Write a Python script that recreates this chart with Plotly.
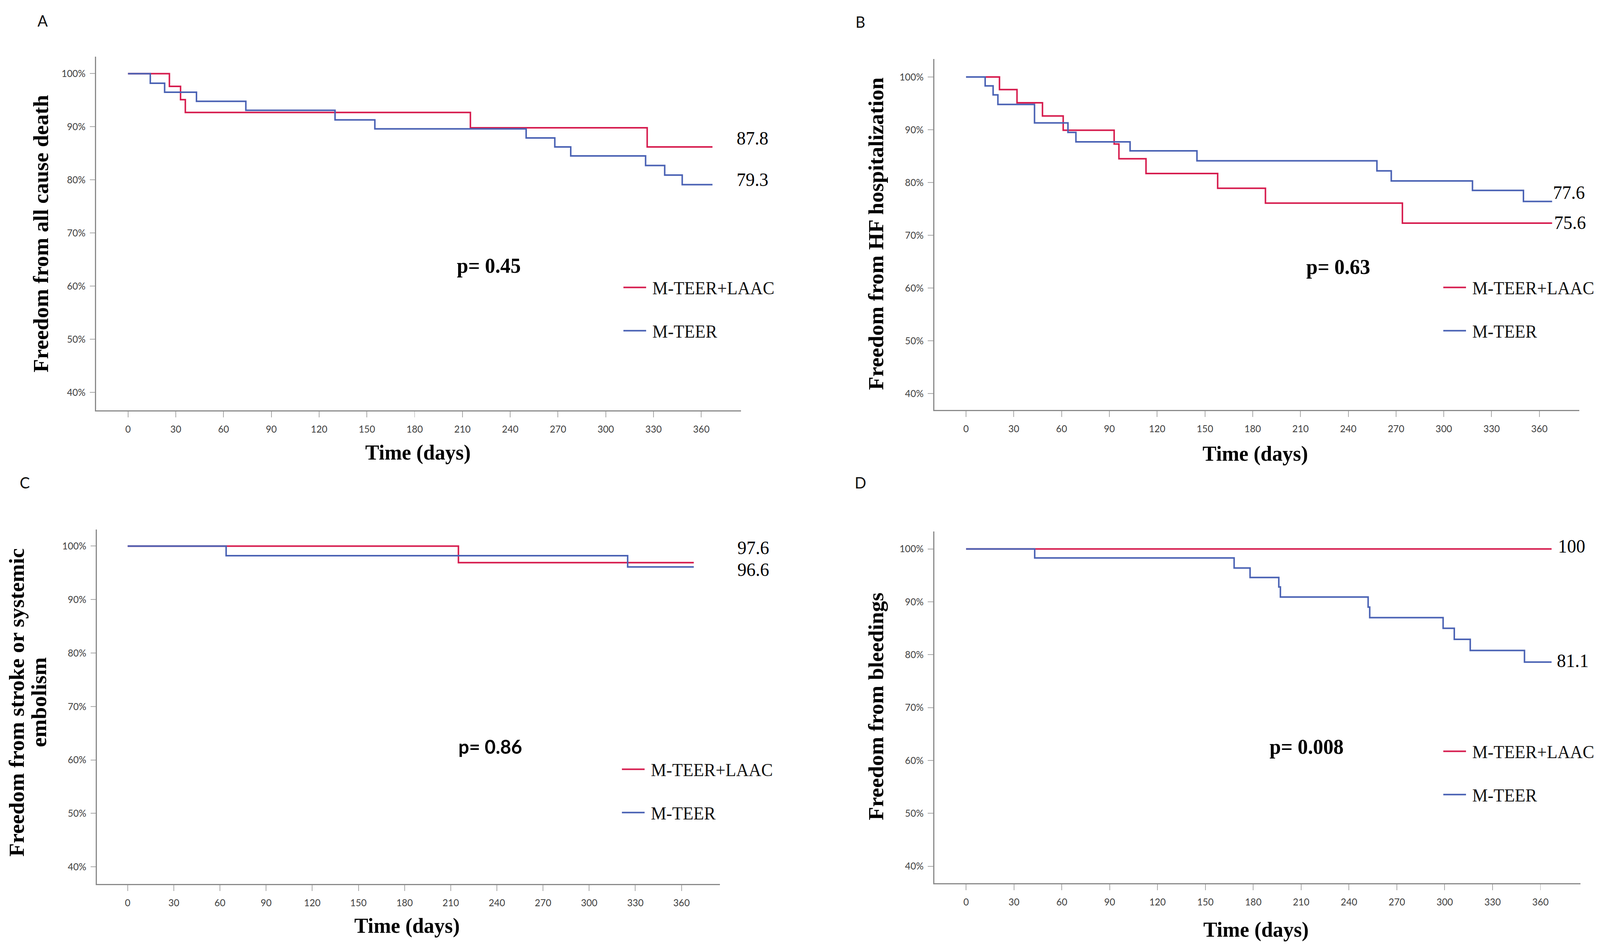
import plotly.graph_objects as go

W, H = 4227, 2431

# ---------------- data ----------------
GROUPS = ["M-TEER+LAAC", "M-TEER"]
COLORS = ["#D61C4E", "#4A62B4"]

# Panel A: all cause death
A_laac_days = [0, 26, 33, 36, 215, 326, 367]
A_laac_surv = [100, 97.6, 95.1, 92.7, 89.8, 86.2, 86.2]
A_teer_days = [0, 14, 23, 43, 74, 130, 155, 250, 268, 278, 325, 337, 348, 367]
A_teer_surv = [100, 98.2, 96.5, 94.8, 93.1, 91.3, 89.6, 87.9, 86.2, 84.5, 82.7, 80.9, 79.1, 79.1]

# Panel B: HF hospitalization
B_laac_days = [0, 21, 32, 48, 61, 93, 96, 113, 158, 188, 274, 368]
B_laac_surv = [100, 97.6, 95.1, 92.6, 89.9, 87.3, 84.5, 81.7, 78.9, 76.1, 72.3, 72.3]
B_teer_days = [0, 12, 17, 20, 43, 64, 69, 103, 145, 258, 267, 318, 350, 368]
B_teer_surv = [100, 98.3, 96.6, 94.8, 91.3, 89.5, 87.7, 86.0, 84.1, 82.2, 80.3, 78.5, 76.4, 76.4]

# Panel C: stroke or systemic embolism
C_laac_days = [0, 215, 368]
C_laac_surv = [100, 96.9, 96.9]
C_teer_days = [0, 64, 325, 368]
C_teer_surv = [100, 98.2, 96.1, 96.1]

# Panel D: bleedings
D_laac_days = [0, 367]
D_laac_surv = [100, 100]
D_teer_days = [0, 43, 168, 178, 196, 197, 252, 253, 299, 306, 316, 350, 367]
D_teer_surv = [100, 98.3, 96.4, 94.6, 92.8, 90.9, 89.0, 87.0, 85.0, 82.9, 80.8, 78.6, 78.6]

PANEL_LABELS = ["A", "B", "C", "D"]
P_VALUES = ["p= 0.45", "p= 0.63", "p= 0.86", "p= 0.008"]
END_LABELS = [["87.8", "79.3"], ["75.6", "77.6"], ["97.6", "96.6"], ["100", "81.1"]]
Y_TITLES = ["Freedom from all cause death", "Freedom from HF hospitalization",
            "Freedom from stroke or systemic", "Freedom from bleedings"]
Y_TITLE_C2 = "embolism"
X_TITLE = "Time (days)"
X_TICKS = [0, 30, 60, 90, 120, 150, 180, 210, 240, 270, 300, 330, 360]
Y_TICKS = [40, 50, 60, 70, 80, 90, 100]
Y_TICK_TEXT = ["40%", "50%", "60%", "70%", "80%", "90%", "100%"]

# ---------------- layout geometry (pixels in the figure) ----------------
def px(x):
    return x / W

def py(y):
    return 1 - y / H

# axes boxes: left, right, top, bottom (px)
BOXES = [
    (254, 1958, 145, 1050),
    (2468, 4172, 151, 1049),
    (256, 1902, 1355, 2262),
    (2468, 4175, 1360, 2260),
]
Y_RANGES = [[36.6, 103.2], [36.9, 103.4], [36.8, 103.1], [36.8, 103.3]]
X_RANGE = [-20, 385]

data_sets = [
    ((A_laac_days, A_laac_surv), (A_teer_days, A_teer_surv)),
    ((B_laac_days, B_laac_surv), (B_teer_days, B_teer_surv)),
    ((C_laac_days, C_laac_surv), (C_teer_days, C_teer_surv)),
    ((D_laac_days, D_laac_surv), (D_teer_days, D_teer_surv)),
]

fig = go.Figure()
layout = dict(
    width=W, height=H,
    margin=dict(l=0, r=0, t=0, b=0),
    paper_bgcolor="white", plot_bgcolor="white",
    annotations=[],
)

AX_LINE = "#8a8a8a"
TICK_COL = "#a8a8a8"
TICK_FONT = dict(family="Lato", size=25, color="#404040")

legend_names = ["legend", "legend2", "legend3", "legend4"]
LEG_POS = [(1642, 791), (3808, 791), (1638, 2024), (3808, 1978)]

for i in range(4):
    sfx = "" if i == 0 else str(i + 1)
    xa, ya = "x" + sfx, "y" + sfx
    l, r, t, b = BOXES[i]
    layout["xaxis" + sfx] = dict(
        domain=[px(l), px(r)], anchor=ya, range=X_RANGE,
        tickmode="array", tickvals=X_TICKS, ticktext=[str(v) for v in X_TICKS],
        showline=True, linecolor=AX_LINE, linewidth=3, mirror=False,
        ticks="outside", ticklen=15, tickwidth=2, tickcolor=TICK_COL,
        showgrid=False, zeroline=False, tickfont=TICK_FONT, ticklabelstandoff=9,
    )
    layout["yaxis" + sfx] = dict(
        domain=[py(b), py(t)], anchor=xa, range=Y_RANGES[i],
        tickmode="array", tickvals=Y_TICKS, ticktext=Y_TICK_TEXT,
        showline=True, linecolor=AX_LINE, linewidth=3,
        ticks="outside", ticklen=14, tickwidth=2, tickcolor=TICK_COL,
        showgrid=False, zeroline=False, tickfont=TICK_FONT, ticklabelstandoff=6,
    )
    for g in range(2):
        days, surv = data_sets[i][g]
        fig.add_trace(go.Scatter(
            x=days, y=surv, mode="lines", line=dict(shape="hv", color=COLORS[g], width=4),
            name="\u00a0" + GROUPS[g], xaxis=xa, yaxis=ya, legend=legend_names[i],
            legendgroup=f"{i}-{g}", hoverinfo="skip",
        ))
    lx, ly = LEG_POS[i]
    layout[legend_names[i]] = dict(
        x=px(lx), y=py(ly), xanchor="left", yanchor="middle",
        font=dict(family="Liberation Serif", size=46, color="#111111"),
        bgcolor="rgba(0,0,0,0)", borderwidth=0,
        traceorder="grouped", tracegroupgap=48, itemwidth=60,
    )

ann = layout["annotations"]

def add_text(txt, x, y, font, angle=0):
    ann.append(dict(text=txt, x=px(x), y=py(y), xref="paper", yref="paper",
                    xanchor="center", yanchor="middle", textangle=angle,
                    showarrow=False, font=font))

# panel letters
for lab, (x, y) in zip(PANEL_LABELS, [(112, 53), (2273, 56), (65, 1235), (2273, 1235)]):
    add_text(lab, x, y, dict(family="Lato", size=40, color="#111111"))

# y-axis titles
YT_FONT = dict(family="Liberation Serif", size=56, color="#000000")
for txt, (x, y) in zip([Y_TITLES[0], Y_TITLES[1], Y_TITLES[3]], [(108, 598), (2314, 598), (2314, 1808)]):
    add_text("<b>" + txt + "</b>", x, y, YT_FONT, -90)
add_text("<b>" + Y_TITLE_C2 + "</b>", 103, 1797, YT_FONT, -90)
add_text("<b>" + Y_TITLES[2] + "</b>", 44, 1798, YT_FONT, -90)

# x-axis titles
for (x, y) in [(1104, 1157), (3316, 1160), (1075, 2368), (3318, 2378)]:
    add_text("<b>" + X_TITLE + "</b>", x, y, dict(family="Liberation Serif", size=55, color="#000000"))

# p-values
P_POS = [(1291, 680), (3535, 683), (1295, 1910), (3452, 1911)]
for k, (txt, (x, y)) in enumerate(zip(P_VALUES, P_POS)):
    fam = "Lato" if k == 2 else "Liberation Serif"
    size = 50 if k == 2 else 54
    add_text("<b>" + txt + "</b>", x, y, dict(family=fam, size=size, color="#000000"))

# end-of-curve labels
END_POS = [[(1988, 354), (1988, 460)], [(4148, 569), (4145, 492)],
           [(1990, 1401), (1990, 1457)], [(4152, 1397), (4155, 1690)]]
for i in range(4):
    for j in range(2):
        x, y = END_POS[i][j]
        add_text(END_LABELS[i][j], x, y, dict(family="Liberation Serif", size=48, color="#000000"))

fig.update_layout(**layout)

# fit the fixed-size figure exactly into the browser viewport
POST = """
var gd = document.getElementById('{plot_id}');
document.documentElement.style.margin = '0';
document.body.style.margin = '0';
document.documentElement.style.overflow = 'hidden';
document.body.style.overflow = 'hidden';
var kx = window.innerWidth / 4227;
var ky = window.innerHeight / 2431;
gd.style.transformOrigin = '0 0';
gd.style.transform = 'scale(' + kx + ',' + ky + ')';
"""

fig.write_html("out.html", config={"displayModeBar": False}, post_script=POST)
